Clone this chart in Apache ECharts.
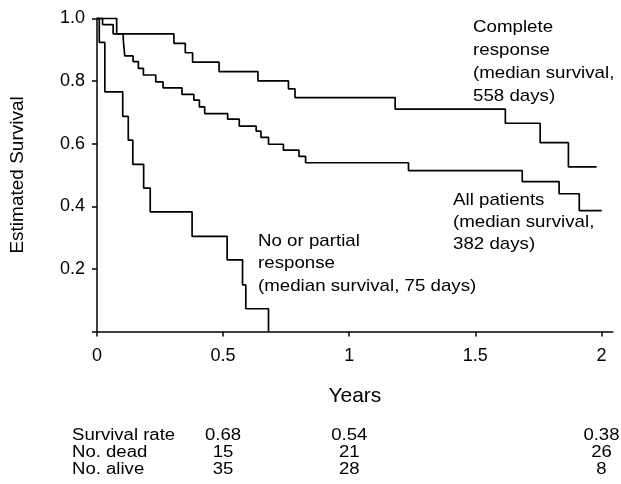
<!DOCTYPE html>
<html>
<head>
<meta charset="utf-8">
<script src="https://cdn.jsdelivr.net/npm/echarts@6/dist/echarts.min.js"></script>
<style>
html,body{margin:0;padding:0;background:#fff;}
#chart{width:621px;height:484px;}
</style>
</head>
<body>
<div id="chart"></div>
<script>
// Kaplan-Meier step data (years, estimated survival after each drop)
var completeYears = [0, 0.078, 0.305, 0.350, 0.379, 0.484, 0.638, 0.759, 0.785, 1.182, 1.619, 1.757, 1.869, 1.981];
var completeSurv  = [1.0, 0.95, 0.92, 0.89, 0.86, 0.83, 0.80, 0.775, 0.747, 0.71, 0.665, 0.603, 0.526, 0.526];

var allYears = [0, 0.022, 0.064, 0.104, 0.110, 0.143, 0.164, 0.184, 0.233, 0.262, 0.337, 0.384, 0.406, 0.427, 0.518, 0.564, 0.631, 0.650, 0.680, 0.739, 0.801, 0.827, 1.235, 1.686, 1.832, 1.912, 2.001];
var allSurv  = [1.0, 0.98, 0.95, 0.933, 0.88, 0.862, 0.84, 0.819, 0.797, 0.778, 0.757, 0.739, 0.717, 0.696, 0.678, 0.656, 0.64, 0.62, 0.598, 0.579, 0.559, 0.539, 0.514, 0.479, 0.44, 0.386, 0.386];

var partialYears = [0, 0.009, 0.031, 0.102, 0.124, 0.142, 0.185, 0.211, 0.377, 0.516, 0.577, 0.590, 0.680];
var partialSurv  = [1.0, 0.923, 0.765, 0.687, 0.611, 0.534, 0.458, 0.382, 0.304, 0.229, 0.149, 0.073, 0.0];

var xTicks = [0, 0.5, 1, 1.5, 2];
var yTicks = [0.2, 0.4, 0.6, 0.8, 1.0];

var annotations = [
  ["Complete", "response", "(median survival,", "558 days)"],
  ["All patients", "(median survival,", "382 days)"],
  ["No or partial", "response", "(median survival, 75 days)"]
];

var tableRows = ["Survival rate", "No. dead", "No. alive"];
var tableYears = [0.5, 1, 2];
var survivalRate = ["0.68", "0.54", "0.38"];
var noDead = ["15", "21", "26"];
var noAlive = ["35", "28", "8"];

function pairs(xs, ys){ return xs.map(function(x,i){ return [x, ys[i]]; }); }

var FONT = "Liberation Sans";
var chart = echarts.init(document.getElementById('chart'), null, {renderer:'canvas'});

function lineSeries(name, xs, ys){
  return {
    name: name, type: 'line', step: 'end', data: pairs(xs, ys),
    symbol: 'none', silent: true, animation: false,
    lineStyle: {color: '#000', width: 1.7}
  };
}

var option = {
  backgroundColor: '#fff',
  animation: false,
  textStyle: {fontFamily: FONT, color: '#000'},
  grid: {left: 94.4, right: 8.2, top: 18.3, bottom: 152.4, containLabel: false},
  xAxis: {
    type: 'value', min: 0, max: 2.045,
    name: 'Years', nameLocation: 'middle', nameGap: 54,
    nameTextStyle: {fontFamily: FONT, fontSize: 21, color: '#000'},
    axisLine: {show: true, onZero: false, lineStyle: {color: '#000', width: 1.5}},
    axisTick: {show: true, inside: false, length: 5, customValues: xTicks, lineStyle: {color: '#000', width: 1.5}},
    axisLabel: {customValues: xTicks, fontFamily: FONT, fontSize: 18, color: '#000', margin: 15,
      formatter: function(v){ return String(v); }},
    splitLine: {show: false}
  },
  yAxis: {
    type: 'value', min: 0, max: 1,
    name: 'Estimated Survival', nameLocation: 'middle', nameGap: 70,
    nameTextStyle: {fontFamily: FONT, fontSize: 19, color: '#000'},
    axisLine: {show: true, lineStyle: {color: '#000', width: 1.5}},
    axisTick: {show: true, length: 5, customValues: [0].concat(yTicks), lineStyle: {color: '#000', width: 1.5}},
    axisLabel: {customValues: yTicks, fontFamily: FONT, fontSize: 18, color: '#000', margin: 12,
      formatter: function(v){ return v.toFixed(1); }},
    splitLine: {show: false}
  },
  series: [
    lineSeries('Complete response', completeYears, completeSurv),
    lineSeries('All patients', allYears, allSurv),
    lineSeries('No or partial response', partialYears, partialSurv)
  ]
};
chart.setOption(option);

var graphics = [];
function addLines(lines, x, y, lh, size, sx){
  lines.forEach(function(t, i){
    graphics.push({type:'text', x: x, y: y + i*lh, scaleX: sx, silent: true,
      style:{text: t, font: size + 'px "' + FONT + '"', fill:'#000', textAlign:'left', textVerticalAlign:'middle'}});
  });
}
addLines(annotations[0], 473, 27, 23, 17, 1.1);
addLines(annotations[1], 453, 200, 22, 17, 1.1);
addLines(annotations[2], 258, 241, 22.5, 17, 1.1);

var rowY = [436, 453, 470];
tableRows.forEach(function(r, i){
  graphics.push({type:'text', x: 72, y: rowY[i], scaleX: 1.16, silent:true,
    style:{text:r, font:'16px "' + FONT + '"', fill:'#000', textAlign:'left', textVerticalAlign:'middle'}});
});
var cols = [survivalRate, noDead, noAlive];
tableYears.forEach(function(yr, j){
  var px = chart.convertToPixel({gridIndex:0}, [yr, 0])[0];
  cols.forEach(function(col, i){
    graphics.push({type:'text', x: px, y: rowY[i], scaleX: 1.16, silent:true,
      style:{text: col[j], font:'16px "' + FONT + '"', fill:'#000', textAlign:'center', textVerticalAlign:'middle'}});
  });
});
chart.setOption({graphic: graphics});
</script>
</body>
</html>
